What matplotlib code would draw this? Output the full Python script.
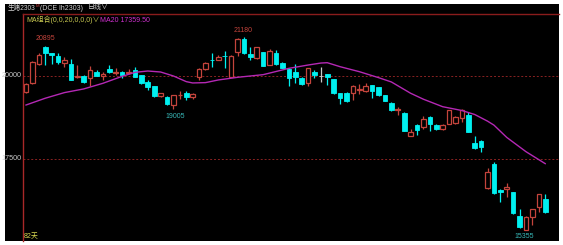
import matplotlib
matplotlib.use("Agg")
import matplotlib.pyplot as plt
from matplotlib.patches import Rectangle

# daily candles, 82 days (生猪2303)
opens = [19530, 19780, 20360, 20870, 20680, 20610, 20380, 20360, 19980, 20010,
         19930, 20110, 20010, 20210, 20100, 20120, 20090, 20180, 20030, 19830,
         19700, 19410, 19380, 19130, 19420, 19480, 19360, 19960, 20210, 20490,
         20480, 20610, 19980, 20730, 21110, 20650, 20530, 20710, 20330, 20680,
         20400, 20210, 20110, 19950, 19780, 20110, 20000, 20060, 19910, 19480,
         19500, 19480, 19590, 19560, 19730, 19660, 19430, 19200, 18990, 18900,
         18190, 18520, 18470, 18770, 18520, 18400, 18550, 18590, 18730, 18830,
         17990, 18050, 16620, 17350, 16570, 16590, 16500, 15790, 15360, 15750,
         16060, 16290]
closes = [19750, 20430, 20630, 20700, 20630, 20420, 20480, 19880, 20010, 19830,
          20180, 20010, 20050, 20110, 20130, 20030, 20135, 19980, 19800, 19680,
          19400, 19480, 19150, 19430, 19435, 19360, 19450, 20210, 20390, 20470,
          20580, 20590, 20600, 21110, 20680, 20560, 20860, 20300, 20750, 20350,
          20250, 19950, 19970, 19750, 20230, 20030, 20000, 19980, 19480, 19350,
          19250, 19700, 19610, 19700, 19550, 19430, 19260, 18980, 19010, 18340,
          18320, 18370, 18700, 18550, 18400, 18520, 18980, 18770, 18980, 18320,
          17820, 17850, 17120, 16470, 16500, 16650, 15870, 15440, 15760, 15990,
          16440, 15890]
highs = [19790, 20450, 20700, 20895, 20700, 20700, 20560, 20510, 20330, 20020,
         20300, 20180, 20130, 20330, 20250, 20140, 20200, 20280, 20040, 19880,
         19710, 19500, 19400, 19440, 19560, 19550, 19480, 20230, 20420, 20690,
         20630, 20750, 20620, 21130, 21180, 20880, 20880, 20720, 20810, 20780,
         20420, 20230, 20360, 19960, 20240, 20180, 20260, 20070, 19920, 19490,
         19510, 19720, 19760, 19790, 19740, 19680, 19440, 19210, 19080, 18910,
         18400, 18540, 18790, 18780, 18540, 18560, 18990, 18800, 19000, 18930,
         18190, 18060, 17230, 17400, 16590, 16790, 16510, 16000, 15780, 16000,
         16460, 16440]
lows = [19490, 19760, 20330, 20330, 20360, 20350, 20280, 19870, 19940, 19790,
        19700, 20000, 19880, 20100, 20030, 19940, 20060, 19970, 19760, 19580,
        19380, 19380, 19130, 19005, 19300, 19290, 19300, 19880, 20180, 20280,
        20470, 20230, 19970, 20610, 20650, 20480, 20510, 20290, 20320, 20340,
        20230, 19710, 19780, 19730, 19700, 19940, 19830, 19730, 19470, 19150,
        19230, 19280, 19460, 19520, 19340, 19400, 19240, 18960, 18830, 18330,
        18180, 18220, 18400, 18350, 18380, 18380, 18540, 18560, 18620, 18310,
        17800, 17720, 16600, 16440, 16210, 16360, 15850, 15420, 15355, 15510,
        15900, 15870]

# MA20 at some days
ma_idx = [0, 3, 6, 9, 12, 15, 17, 19, 21, 23, 25, 26, 28, 30, 33, 37, 41, 44, 46, 47,
          49, 52, 55, 57, 60, 62, 65, 68, 70, 72, 73, 75, 78, 81]
ma_val = [19126, 19330, 19500, 19610, 19780, 19990, 20110, 20150, 20120, 20000,
          19830, 19790, 19800, 19880, 19960, 20040, 20230, 20330, 20390, 20400,
          20280, 20130, 19950, 19820, 19480, 19300, 19075, 18960, 18840, 18640,
          18520, 18150, 17720, 17360]

y_levels = [20000, 17500]
y_labels = ["20000", "17500"]

UP = "#c4443c"
DOWN = "#00f0f0"
FLAT = "#c8c8c8"
W, H = 563, 245

num_font = ["Liberation Sans", "DejaVu Sans"]
cjk_font = ["Liberation Sans", "Noto Sans CJK SC", "DejaVu Sans"]

fig = plt.figure(figsize=(W / 100, H / 100), dpi=100, facecolor="white")
fig.patches.append(Rectangle((5 / W, 4 / H), 554 / W, 237 / H, transform=fig.transFigure,
                             facecolor="black", edgecolor="none", zorder=-1))

ax = fig.add_axes([23 / W, 4 / H, 536 / W, 227 / H])
ax.set_facecolor("black")
ax.set_xlim(-0.47, 83.15)
ax.set_ylim(15030, 21867)
ax.set_xticks([])
ax.set_yticks([])
for s in ["bottom", "right"]:
    ax.spines[s].set_visible(False)
ax.spines["left"].set_color("#a82828")
ax.spines["left"].set_linewidth(1.0)
ax.spines["top"].set_color("#8a1c1c")
ax.spines["top"].set_linewidth(1.0)

for lv, lb in zip(y_levels, y_labels):
    ax.axhline(lv, color="#8a2222", lw=0.7, ls=(0, (2, 2)), zorder=0.5)
    ax.annotate(lb, xy=(0, lv), xycoords=("axes fraction", "data"), xytext=(-1, 0),
                textcoords="offset points", ha="right", va="center",
                fontsize=5.2, color="#c8c8c8", family=num_font, annotation_clip=False)

for i in range(len(opens)):
    o, c, hi, lo = opens[i], closes[i], highs[i], lows[i]
    col = UP if c > o else (DOWN if c < o else FLAT)
    ax.vlines(i, lo, hi, color=col, lw=0.9, zorder=1)
    h = max(abs(c - o), 12)
    if c > o:
        ax.bar(i, h, bottom=min(o, c), width=0.72, facecolor="black",
               edgecolor=col, linewidth=0.9, zorder=2)
    else:
        ax.bar(i, h, bottom=min(o, c), width=0.72, facecolor=col,
               edgecolor=col, linewidth=0.6, zorder=2)

ax.plot(ma_idx, ma_val, color="#b428b4", lw=1.0, zorder=3)

# high / low marks
ax.annotate("20895", xy=(3, 20895), xytext=(0, 3), textcoords="offset points",
            ha="center", va="bottom", fontsize=5, color=UP, family=num_font)
ax.annotate("21180", xy=(34, 21180), xytext=(-0.5, 2), textcoords="offset points",
            ha="center", va="bottom", fontsize=5, color=UP, family=num_font)
ax.annotate("19005", xy=(23, 19005), xytext=(1, -3), textcoords="offset points",
            ha="center", va="top", fontsize=5, color="#38b8b8", family=num_font)
ax.annotate("15355", xy=(78, 15355), xytext=(-1, -2), textcoords="offset points",
            ha="center", va="top", fontsize=5, color="#38b8b8", family=num_font)

ax.text(0.002, 0.005, "82天", transform=ax.transAxes, ha="left", va="bottom",
        fontsize=5, color="#d8d850", family=cjk_font)

# header
fig.text(8 / W, 1 - 8 / H, "生猪2303", ha="left", va="center", fontsize=4.8,
         color="#d0d0d0", family=cjk_font)
fig.text(35.5 / W, 1 - 6 / H, "M", ha="left", va="center", fontsize=3.2,
         color="#d04040", family=num_font)
fig.text(40 / W, 1 - 8 / H, "(DCE lh2303)", ha="left", va="center", fontsize=5,
         color="#d0d0d0", family=num_font)
fig.text(88 / W, 1 - 8 / H, "日线∨", ha="left", va="center", fontsize=5,
         color="#d0d0d0", family=cjk_font)
fig.text(26 / W, 1 - 20 / H, "MA组合(0,0,20,0,0,0)∨", ha="left", va="center",
         fontsize=5, color="#c8c850", family=cjk_font)
fig.text(100 / W, 1 - 20 / H, "MA20 17359.50", ha="left", va="center",
         fontsize=5, color="#d030d0", family=num_font)

fig.savefig("out.png", dpi=100, facecolor="white")
